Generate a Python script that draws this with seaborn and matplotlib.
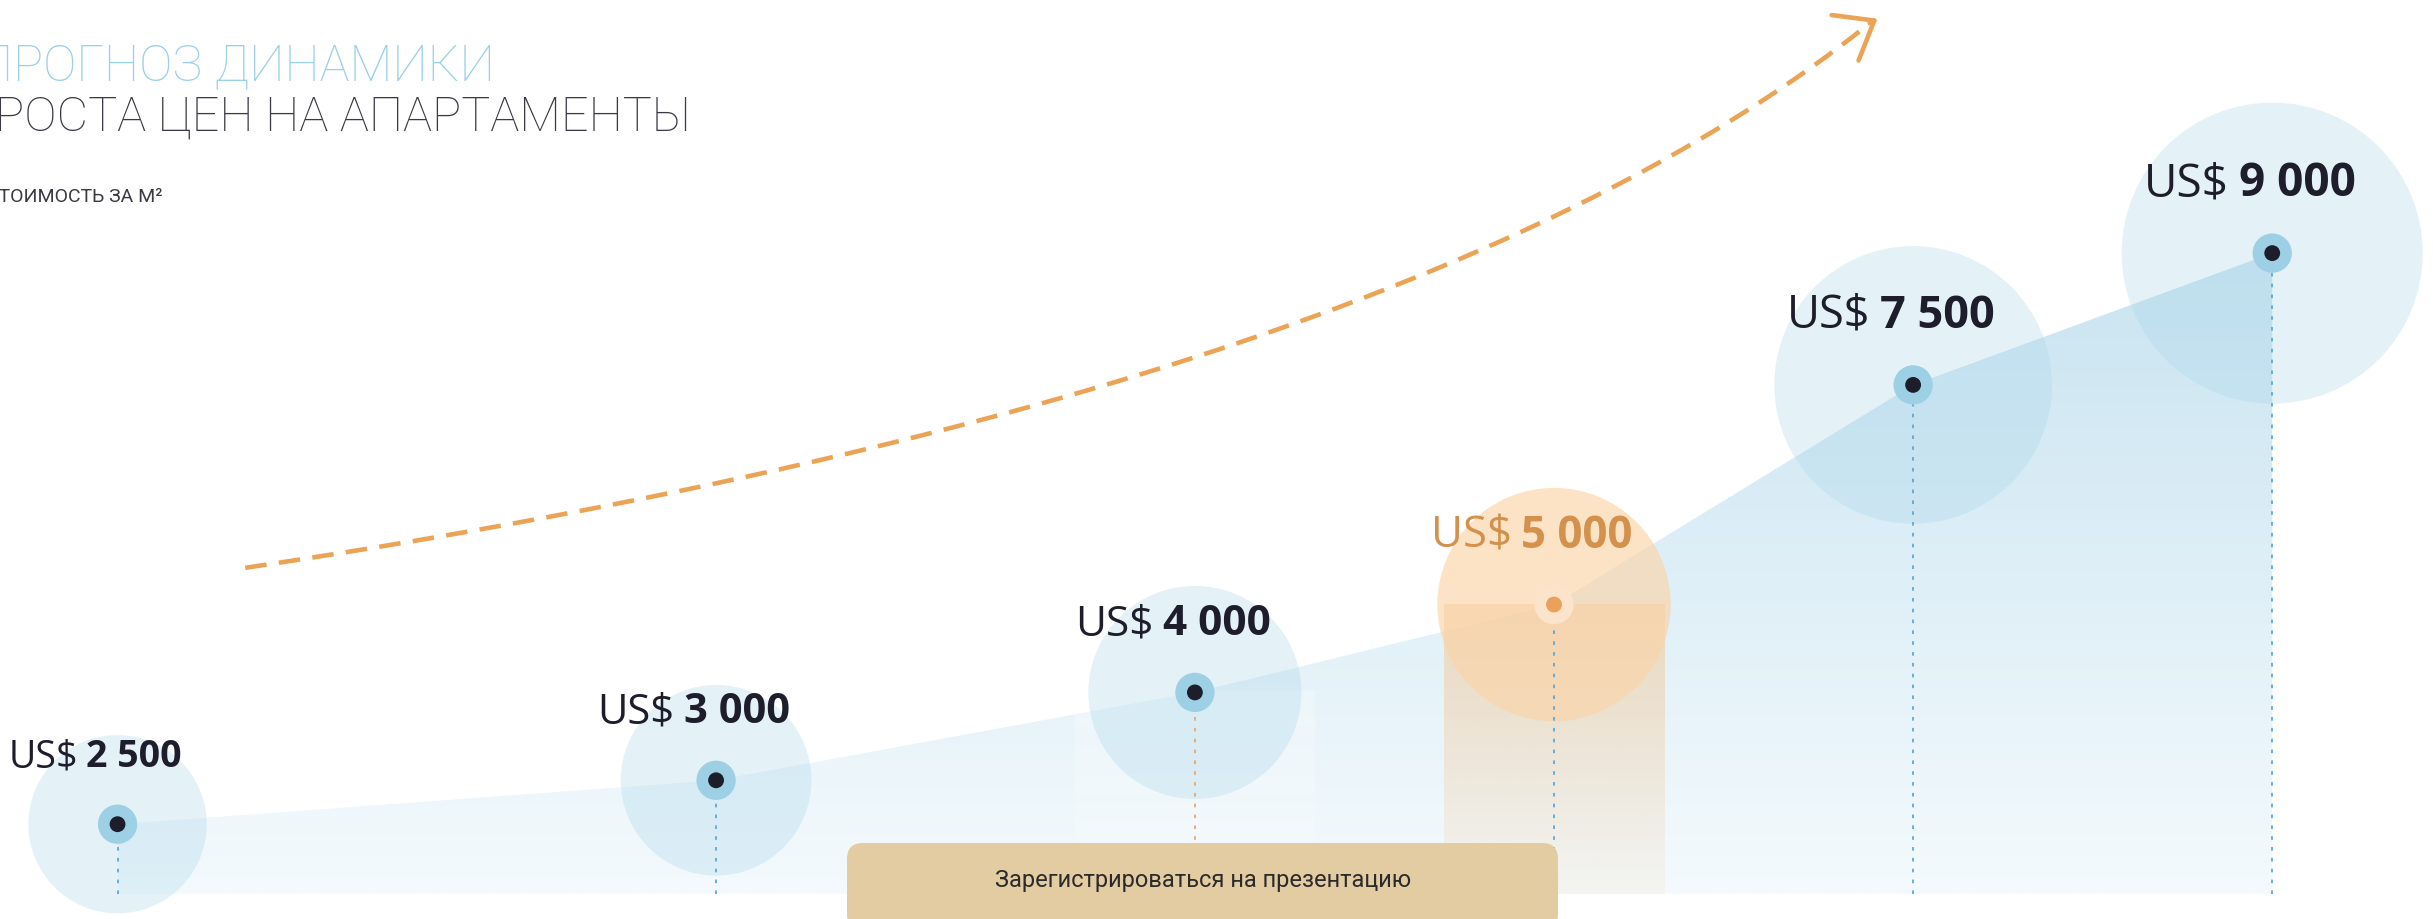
import numpy as np
import pandas as pd
import matplotlib
matplotlib.use("Agg")
from matplotlib import pyplot as plt
from matplotlib.colors import to_rgb
from matplotlib.patches import FancyBboxPatch
from matplotlib.transforms import IdentityTransform
import seaborn as sns

# --- data ---
prices = [2500, 3000, 4000, 5000, 7500, 9000]
price_labels = ["2 500", "3 000", "4 000", "5 000", "7 500", "9 000"]
timeline = [0, 5, 9, 12, 15, 18]          # estimated spacing of the stages
stage_kind = ["base", "base", "base", "focus", "base", "base"]
currency = "US$"
floor_price = 1700

title_1 = "ПРОГНОЗ ДИНАМИКИ"
title_2 = "РОСТА ЦЕН НА АПАРТАМЕНТЫ"
subtitle = "СТОИМОСТЬ ЗА М²"
button_text = "Зарегистрироваться на презентацию"

df = pd.DataFrame({"t": timeline, "price": prices, "kind": stage_kind})

# colours / sizes
BLUE_HALO = "#a8d5ea"
ORANGE_HALO = "#fbd4a8"
ORANGE = "#eba356"
ORANGE_TXT = "#d4914d"
DARK = "#1d1d2b"
TITLE_BLUE = "#9bd0e6"
TITLE_GREY = "#3a3a44"
label_sizes = [27, 30, 30.5, 31.5, 32.5, 33]

sns.set_theme(style="white")
plt.rcParams["font.family"] = ["Roboto", "DejaVu Sans"]
LABEL_FONT = ["Open Sans", "DejaVu Sans"]

fig = plt.figure(figsize=(24.33, 9.19), dpi=100)
ax = fig.add_axes([0, 0, 1, 1])

# gradient area under the price line
area = ax.fill_between(df.t, df.price, floor_price, color="none", lw=0)
area_path = area.get_paths()[0]
top = np.array(to_rgb("#c9e4f1"))
bot = np.array(to_rgb("#f4fafd"))
g = np.linspace(0, 1, 256)[:, None, None]
img = bot + (top - bot) * g
img = np.repeat(img, 2, axis=1)
im = ax.imshow(img, extent=[min(timeline), max(timeline), floor_price, max(prices)],
               origin="lower", aspect="auto", zorder=1, interpolation="bilinear")
im.set_clip_path(area_path, transform=ax.transData)


# vertical bands under 4000 (light) and 5000 (orange)
def band(x, y, half, rgb, a_top, a_bot, clip=False):
    rgba = np.zeros((256, 2, 4))
    rgba[..., :3] = to_rgb(rgb)
    rgba[..., 3] = np.linspace(a_bot, a_top, 256)[:, None]
    b = ax.imshow(rgba, extent=[x - half, x + half, floor_price, y], origin="lower",
                  aspect="auto", zorder=1.5, interpolation="bilinear")
    if clip:
        b.set_clip_path(area_path, transform=ax.transData)


band(df.t[2], df.price[2], 1.0, "#ffffff", 0.3, 0.15, clip=True)
band(df.t[3], df.price[3], 0.92, "#f3c998", 0.6, 0.1)

# halos
norm = (min(prices), max(prices))
sns.scatterplot(data=df[df.kind == "base"], x="t", y="price", size="price",
                sizes=(16500, 47000), size_norm=norm, color=BLUE_HALO, alpha=0.3,
                edgecolor="none", legend=False, ax=ax, zorder=2)
sns.scatterplot(data=df[df.kind == "focus"], x="t", y="price", size="price",
                sizes=(16500, 47000), size_norm=norm, color=ORANGE_HALO, alpha=0.65,
                edgecolor="none", legend=False, ax=ax, zorder=2)

# dotted drop lines
line_cols = ["#5fa8d3", "#5fa8d3", "#e6a871", "#5fa8d3", "#5fa8d3", "#5fa8d3"]
ax.vlines(df.t, floor_price, df.price, colors=line_cols, linestyles=(0, (2, 4)),
          lw=1.3, zorder=3)

# markers: ring + core
sns.scatterplot(data=df, x="t", y="price", hue="kind",
                palette={"base": "#9dd0e4", "focus": "#fce3cb"},
                s=800, edgecolor="none", legend=False, ax=ax, zorder=4)
sns.scatterplot(data=df, x="t", y="price", hue="kind",
                palette={"base": DARK, "focus": "#e9a15b"},
                s=130, edgecolor="none", legend=False, ax=ax, zorder=5)

ax.set_xlim(-0.982, 19.343)
ax.set_ylim(1421, 11881)
ax.axis("off")

# price labels: "US$" regular + number bold, a little left of the point
fig.canvas.draw()
rend = fig.canvas.get_renderer()
off = 41
shift = -16
for t, p, lab, kind, fs in zip(df.t, df.price, price_labels, df.kind, label_sizes):
    col = ORANGE_TXT if kind == "focus" else DARK
    a = ax.annotate(currency, (t, p), xytext=(0, off), textcoords="offset points",
                    ha="left", va="baseline", fontsize=fs, color=col,
                    family=LABEL_FONT, zorder=6)
    b = ax.annotate(lab, (t, p), xytext=(0, off), textcoords="offset points",
                    ha="left", va="baseline", fontsize=fs, color=col,
                    fontweight="bold", family=LABEL_FONT, zorder=6)
    wa = a.get_window_extent(rend).width * 72 / fig.dpi
    wb = b.get_window_extent(rend).width * 72 / fig.dpi
    gap = fs * 0.22
    total = wa + gap + wb
    a.xyann = (shift - total / 2, off)
    b.xyann = (shift - total / 2 + wa + gap, off)

# dashed growth arrow
P0 = np.array([0.1008, 0.3821])
C = np.array([0.5785, 0.5711])
P2 = np.array([0.7685, 0.9747])
tt = np.linspace(0, 1, 300)[:, None]
curve = (1 - tt) ** 2 * P0 + 2 * tt * (1 - tt) * C + tt ** 2 * P2
ax.plot(curve[:, 0], curve[:, 1], transform=ax.transAxes, color=ORANGE, lw=3.3,
        ls=(0, (4.7, 2.7)), solid_capstyle="butt", zorder=6)
ax.annotate("", xy=(0.7717, 0.9797), xytext=tuple(P2), xycoords="axes fraction",
            textcoords="axes fraction",
            arrowprops=dict(arrowstyle="->,head_length=1.22,head_width=0.95",
                            mutation_scale=20, color=ORANGE, lw=3.3,
                            shrinkA=0, shrinkB=0))

# titles (cut by the left edge as in the source)
fig.text(-22 / 2433, 0.927, title_1, fontsize=36, color=TITLE_BLUE,
         fontweight="light", va="center", ha="left")
fig.text(-5 / 2433, 0.872, title_2, fontsize=35, color=TITLE_GREY,
         fontweight="light", va="center", ha="left")
fig.text(-14 / 2433, 0.786, subtitle, fontsize=14, color=TITLE_GREY,
         va="center", ha="left")

# call-to-action button
btn = FancyBboxPatch((847, -11), 711, 87, boxstyle="round,pad=0,rounding_size=16",
                     transform=IdentityTransform(), facecolor="#e3cba2",
                     edgecolor="none", zorder=7)
fig.patches.append(btn)
fig.text(0.4943, 0.0414, button_text, fontsize=17, color="#2b2b2b",
         ha="center", va="center", zorder=8)

fig.savefig("out.png", dpi=100)
